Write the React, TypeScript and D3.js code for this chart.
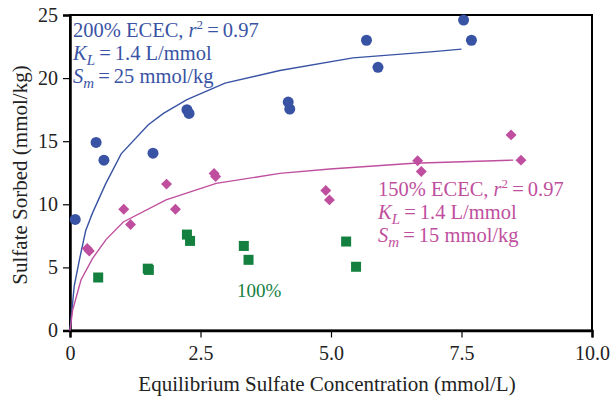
import { useEffect, useRef } from "react";
import * as d3 from "d3";

// 200% ECEC (circles)
const conc200 = [0.1, 0.5, 0.65, 1.59, 2.24, 2.28, 4.18, 4.21, 5.68, 5.9, 7.54, 7.69];
const sorb200 = [8.8, 14.9, 13.5, 14.05, 17.5, 17.2, 18.1, 17.55, 23.0, 20.85, 24.6, 23.0];
// 150% ECEC (diamonds)
const conc150 = [0.33, 0.37, 1.03, 1.16, 1.85, 2.02, 2.76, 2.79, 4.9, 4.97, 6.66, 6.73, 8.45, 8.64];
const sorb150 = [6.5, 6.3, 9.6, 8.4, 11.6, 9.6, 12.45, 12.2, 11.1, 10.35, 13.45, 12.6, 15.5, 13.5];
// 100% ECEC (squares)
const conc100 = [0.54, 1.49, 1.51, 2.24, 2.3, 3.33, 3.42, 5.29, 5.48];
const sorb100 = [4.2, 4.9, 4.8, 7.6, 7.1, 6.7, 5.6, 7.05, 5.05];
// fitted Langmuir curves
const fitConc200 = [0, 0.08, 0.18, 0.3, 0.43, 0.68, 0.98, 1.5, 1.79, 2.24, 2.97, 4.02, 5.42, 6.96, 7.5];
const fitSorb200 = [0, 3.5, 5.6, 7.9, 9.3, 11.6, 14.0, 16.3, 17.2, 18.3, 19.6, 20.6, 21.6, 22.1, 22.3];
const fitConc150 = [0, 0.05, 0.21, 0.43, 0.69, 1.02, 1.84, 2.8, 4.02, 4.98, 6.58, 8.49];
const fitSorb150 = [0, 1.6, 4.0, 5.7, 7.2, 8.6, 10.35, 11.66, 12.45, 12.8, 13.25, 13.5];

const xTicks = [0, 2.5, 5, 7.5, 10];
const xTickLabels = ["0", "2.5", "5.0", "7.5", "10.0"];
const yTicks = [0, 5, 10, 15, 20, 25];

const BLUE = "#3953a4";
const PINK = "#bf4f9e";
const GREEN = "#13803f";
const FONT = "Liberation Serif, Times New Roman, Times, serif";

export default function App() {
  const svgRef = useRef<SVGSVGElement>(null);

  useEffect(() => {
    if (!svgRef.current) return;
    const svg = d3.select(svgRef.current);
    svg.selectAll("*").remove();

    const x = d3.scaleLinear().domain([0, 10]).range([70, 592]);
    const y = d3.scaleLinear().domain([0, 25]).range([330.5, 15]);

    // frame
    svg.append("rect")
      .attr("x", x(0)).attr("y", y(25))
      .attr("width", x(10) - x(0)).attr("height", y(0) - y(25))
      .attr("fill", "none").attr("stroke", "#000").attr("stroke-width", 2);

    // Y Axis
    svg.append("g")
      .attr("transform", `translate(${x(0)},0)`)
      .call(d3.axisLeft(y).tickValues(yTicks).tickSize(7).tickPadding(5))
      .attr("font-family", FONT).attr("font-size", 20)
      .call(g => g.select(".domain").attr("stroke-width", 2.5))
      .call(g => g.selectAll(".tick line").attr("stroke-width", 1.2))
      .call(g => g.selectAll(".tick text").attr("fill", "#222"));

    // X Axis
    svg.append("g")
      .attr("transform", `translate(0,${y(0)})`)
      .call(d3.axisBottom(x).tickValues(xTicks).tickSize(7).tickPadding(8)
        .tickFormat((_, i) => xTickLabels[i]))
      .attr("font-family", FONT).attr("font-size", 20)
      .call(g => g.select(".domain").attr("stroke-width", 2.5))
      .call(g => g.selectAll(".tick line").attr("stroke-width", 1.2))
      .call(g => g.selectAll(".tick text").attr("fill", "#222"));

    // axis titles
    svg.append("text")
      .attr("x", (x(0) + x(10)) / 2 - 4)
      .attr("y", 391)
      .attr("text-anchor", "middle")
      .attr("font-family", FONT).attr("font-size", 21).attr("fill", "#222")
      .text("Equilibrium Sulfate Concentration (mmol/L)");

    svg.append("text")
      .attr("transform", "rotate(-90)")
      .attr("x", -175)
      .attr("y", 27)
      .attr("text-anchor", "middle")
      .attr("font-family", FONT).attr("font-size", 21).attr("fill", "#222")
      .text("Sulfate Sorbed (mmol/kg)");

    // fit lines
    const line = d3.line<[number, number]>().x(d => x(d[0])).y(d => y(d[1]));
    svg.append("path")
      .datum(fitConc200.map((c, i) => [c, fitSorb200[i]] as [number, number]))
      .attr("d", line).attr("fill", "none").attr("stroke", BLUE).attr("stroke-width", 1.4);
    svg.append("path")
      .datum(fitConc150.map((c, i) => [c, fitSorb150[i]] as [number, number]))
      .attr("d", line).attr("fill", "none").attr("stroke", PINK).attr("stroke-width", 1.4);

    // points
    svg.append("g").selectAll("circle")
      .data(conc200.map((c, i) => [c, sorb200[i]]))
      .join("circle")
      .attr("cx", d => x(d[0])).attr("cy", d => y(d[1])).attr("r", 5.5)
      .attr("fill", BLUE);

    const diamond = d3.symbol().type(d3.symbolSquare).size(60);
    svg.append("g").selectAll("path")
      .data(conc150.map((c, i) => [c, sorb150[i]]))
      .join("path")
      .attr("d", diamond)
      .attr("transform", d => `translate(${x(d[0])},${y(d[1])}) rotate(45)`)
      .attr("fill", PINK);

    svg.append("g").selectAll("rect")
      .data(conc100.map((c, i) => [c, sorb100[i]]))
      .join("rect")
      .attr("x", d => x(d[0]) - 5).attr("y", d => y(d[1]) - 5)
      .attr("width", 10).attr("height", 10)
      .attr("fill", GREEN);

    // annotations
    const block = (x0: number, y0: number, color: string, pct: string, sm: string) => {
      const g = svg.append("g")
        .attr("font-family", FONT).attr("font-size", 20.5).attr("fill", color);
      const t1 = g.append("text").attr("x", x0).attr("y", y0);
      t1.append("tspan").text(`${pct} ECEC, `);
      t1.append("tspan").attr("font-style", "italic").text("r");
      t1.append("tspan").attr("font-size", 13).attr("dy", -8).text("2");
      t1.append("tspan").attr("dy", 8).text("\u2009=\u20090.97");
      const t2 = g.append("text").attr("x", x0).attr("y", y0 + 23);
      t2.append("tspan").attr("font-style", "italic").text("K");
      t2.append("tspan").attr("font-style", "italic").attr("font-size", 15).attr("dy", 5).text("L");
      t2.append("tspan").attr("dy", -5).text("\u2009=\u20091.4 L/mmol");
      const t3 = g.append("text").attr("x", x0).attr("y", y0 + 46);
      t3.append("tspan").attr("font-style", "italic").text("S");
      t3.append("tspan").attr("font-style", "italic").attr("font-size", 15).attr("dy", 5).text("m");
      t3.append("tspan").attr("dy", -5).text(`\u2009=\u2009${sm} mmol/kg`);
    };
    block(73, 37, BLUE, "200%", "25");
    block(378, 196, PINK, "150%", "15");

    svg.append("text")
      .attr("x", 237).attr("y", 297)
      .attr("font-family", FONT).attr("font-size", 19).attr("fill", GREEN)
      .text("100%");
  }, []);

  return (
    <div style={{ position: "absolute", left: 0, top: 0, background: "#fff" }}>
      <svg ref={svgRef} width={613} height={396} style={{ display: "block" }} />
    </div>
  );
}
